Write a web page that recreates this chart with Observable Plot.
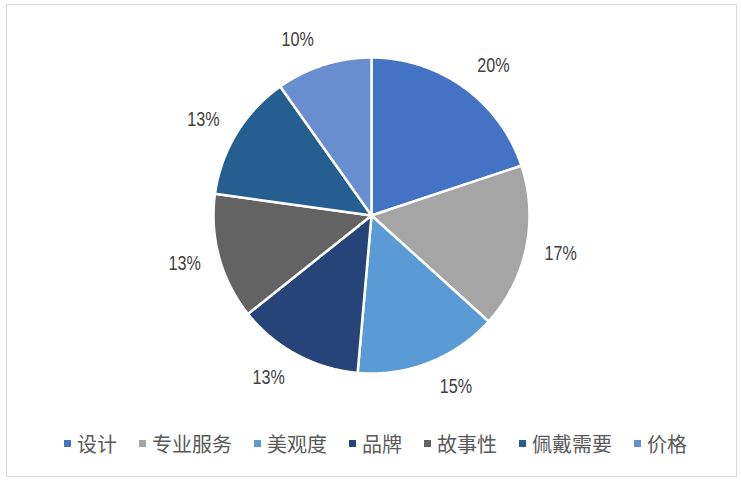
<!DOCTYPE html>
<html><head><meta charset="utf-8">
<script src="https://cdn.jsdelivr.net/npm/d3@7"></script>
<script src="https://cdn.jsdelivr.net/npm/@observablehq/plot@0.6"></script>
<style>
html,body{margin:0;padding:0;background:#fff;}
#wrap{position:relative;width:741px;height:483px;overflow:hidden;}
#frame{position:absolute;left:6px;top:4px;width:729px;height:471px;border:1px solid #d9d9d9;box-sizing:content-box;}
#chart{position:absolute;left:0;top:0;}
#legend{position:absolute;left:5px;width:741px;top:429px;height:28px;display:flex;justify-content:center;align-items:center;font-family:"Noto Sans CJK SC",sans-serif;font-size:20px;color:#595959;}
.item{display:flex;align-items:center;margin:0 11px;}
.sw{width:7px;height:7px;margin-right:6px;}
</style></head>
<body><div id="wrap"><div id="frame"></div><div id="chart"></div><div id="legend"></div></div>
<script>
const categories = ["设计","专业服务","美观度","品牌","故事性","佩戴需要","价格"];
const values = [19.9, 16.8, 14.7, 12.9, 12.9, 13.0, 9.8];
const colors = ["#4472C4","#A5A5A5","#5B9BD5","#264478","#636363","#255E91","#698ED0"];

const total = d3.sum(values);
const pie = d3.pie().sort(null).value(d => d.value)(categories.map((c,i)=>({cat:c,value:values[i]})));

// slice outlines on the unit circle, angle clockwise from north
const pts = [];
pie.forEach(s => {
  const cat = s.data.cat;
  pts.push({cat, x:0, y:0});
  const n = 120;
  for (let k=0;k<=n;k++){
    const a = s.startAngle + (s.endAngle - s.startAngle)*k/n;
    pts.push({cat, x:Math.sin(a), y:Math.cos(a)});
  }
  pts.push({cat, x:0, y:0});
});
// outside-end labels (label box pushed outward horizontally)
const labels = pie.map(s => {
  const a = (s.startAngle + s.endAngle)/2;
  const sx = Math.sin(a), cy_ = Math.cos(a);
  return {x: 1.082*sx + 0.139*Math.sign(sx), y: 1.165*cy_, text: Math.round(s.data.value/total*100) + "%"};
});

const cx = 371, cy = 215, r = 158;
const chart = Plot.plot({
  width: 741, height: 420,
  margin: 0,
  x: {domain:[-1,1], range:[cx-r, cx+r], axis:null},
  y: {domain:[-1,1], range:[cy+r, cy-r], axis:null},
  color: {domain: categories, range: colors},
  style: {background:"transparent", overflow:"visible"},
  marks: [
    Plot.line(pts, {x:"x", y:"y", z:"cat", fill:"cat", stroke:"white", strokeWidth:2.5, strokeLinejoin:"round"}),
    Plot.text(labels, {x:"x", y:"y", text:"text", fill:"#404040", fontSize:19.5, fontFamily:"'Liberation Sans Narrow','Liberation Sans',sans-serif"})
  ]
});
document.getElementById("chart").appendChild(chart);

// condense label glyphs (Arial Narrow look)
chart.querySelectorAll("text").forEach(t => {
  const tr = t.getAttribute("transform");
  if (tr) t.setAttribute("transform", tr + " scale(0.83,1)");
});

const lg = document.getElementById("legend");
categories.forEach((c,i) => {
  const it = document.createElement("div"); it.className="item";
  const sw = document.createElement("div"); sw.className="sw"; sw.style.background=colors[i];
  const t = document.createElement("span"); t.textContent=c;
  it.appendChild(sw); it.appendChild(t); lg.appendChild(it);
});
</script></body></html>
